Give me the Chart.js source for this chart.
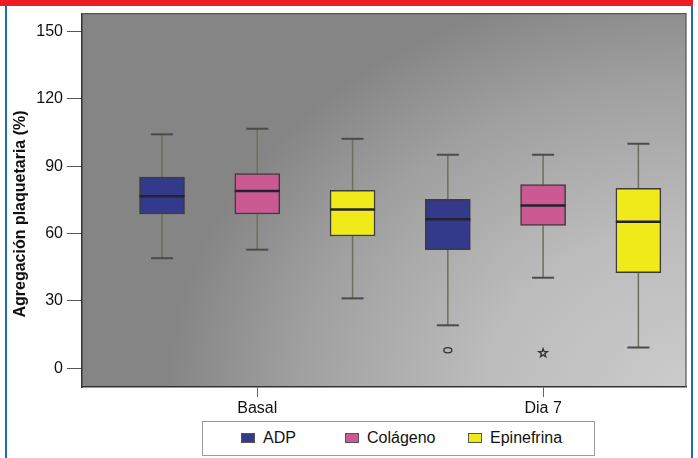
<!DOCTYPE html>
<html lang="es">
<head>
<meta charset="UTF-8">
<title>Agregación plaquetaria</title>
<script src="https://cdn.jsdelivr.net/npm/chart.js@4"></script>
<style>
  html, body { margin: 0; padding: 0; background: #fff; }
  body { width: 698px; height: 458px; position: relative; overflow: hidden;
         font-family: "Liberation Sans", Arial, sans-serif; }
  .franja { position: absolute; left: 0; top: 0; width: 693px; height: 6px; background: #ee1c25; }
  .borde { position: absolute; top: 6px; width: 2px; height: 452px; background: #1e6db2; }
  #grafico { position: absolute; left: 0; top: 0; }
  .leyenda { position: absolute; left: 202px; top: 421px; width: 391px; height: 33px;
             border: 1px solid #9a9a9a; background: #fff; }
  .item { position: absolute; top: 7px; font-size: 16px; color: #111; white-space: nowrap; }
  .item i { display: inline-block; width: 14px; height: 10px; margin-right: 8px;
            border: 1px solid #555; box-sizing: border-box; vertical-align: 0px; }
</style>
</head>
<body>
<div class="franja"></div>
<div class="borde" style="left:5px"></div>
<div class="borde" style="left:691px"></div>
<canvas id="grafico" width="698" height="458"></canvas>
<div class="leyenda" id="leyenda"></div>

<script>
// datos: cada fila es una serie, cada columna una categoría (Basal, Dia 7)
const categorias = ['Basal', 'Dia 7'];
const series = ['ADP', 'Colágeno', 'Epinefrina'];
const minimo  = [[49.0, 19.1], [52.8, 40.3], [31.1, 9.2]];
const q1      = [[68.7, 52.8], [68.7, 63.6], [58.9, 42.6]];
const mediana = [[76.6, 66.3], [79.0, 72.5], [70.7, 65.2]];
const q3      = [[85.1, 75.2], [86.7, 81.8], [79.2, 80.1]];
const maximo  = [[104.2, 95.1], [106.7, 95.1], [102.2, 100.0]];
// valores atípicos: [serie, categoría, valor, símbolo]
const atipicos = [[0, 1, 8.0, 'circulo'], [1, 1, 6.7, 'estrella']];
const yTicks = [0, 30, 60, 90, 120, 150];

const colores = ['#333a8c', '#cb5a93', '#f1ea1a'];

// posición de cada caja en el eje x: tres cajas por categoría
const posX = (serie, cat) => cat * 3 + serie + 1;
const posCategorias = categorias.map((c, j) => posX(1, j));

// leyenda
const leyendaX = [38, 142, 265];
const leyenda = document.getElementById('leyenda');
series.forEach((s, i) => {
  const el = document.createElement('span');
  el.className = 'item';
  el.style.left = leyendaX[i] + 'px';
  el.innerHTML = '<i style="background:' + colores[i] + '"></i>' + s;
  leyenda.appendChild(el);
});

const fondo = {
  id: 'fondo',
  beforeDraw(chart) {
    const { ctx, chartArea: a } = chart;
    const cx = a.right + 10, cy = a.bottom + 10, rx = 530, ry = 420;
    ctx.save();
    ctx.translate(cx, cy);
    ctx.scale(1, ry / rx);
    const g = ctx.createRadialGradient(0, 0, 0, 0, 0, rx);
    g.addColorStop(0, '#cccccc');
    g.addColorStop(0.4, '#bcbcbc');
    g.addColorStop(0.75, '#a0a0a0');
    g.addColorStop(1, '#858585');
    ctx.fillStyle = g;
    ctx.fillRect(a.left - cx, (a.top - cy) * rx / ry, a.right - a.left, (a.bottom - a.top) * rx / ry);
    ctx.restore();
  }
};

function linea(ctx, x1, y1, x2, y2) {
  ctx.beginPath();
  ctx.moveTo(x1, y1);
  ctx.lineTo(x2, y2);
  ctx.stroke();
}

const bigotes = {
  id: 'bigotes',
  beforeDatasetsDraw(chart) {
    const { ctx, scales: { x, y } } = chart;
    ctx.save();
    series.forEach((s, i) => {
      categorias.forEach((c, j) => {
        const px = x.getPixelForValue(posX(i, j));
        ctx.strokeStyle = '#6f6d5d';
        ctx.lineWidth = 1.5;
        linea(ctx, px, y.getPixelForValue(q3[i][j]), px, y.getPixelForValue(maximo[i][j]));
        linea(ctx, px, y.getPixelForValue(q1[i][j]), px, y.getPixelForValue(minimo[i][j]));
        ctx.strokeStyle = '#4a4a4a';
        ctx.lineWidth = 2;
        [maximo[i][j], minimo[i][j]].forEach(v => {
          const py = y.getPixelForValue(v);
          linea(ctx, px - 11, py, px + 11, py);
        });
      });
    });
    ctx.restore();
  },
  afterDatasetsDraw(chart) {
    const { ctx, chartArea: a, scales: { x, y } } = chart;
    ctx.save();
    // medianas
    series.forEach((s, i) => {
      const meta = chart.getDatasetMeta(i);
      categorias.forEach((c, j) => {
        const bar = meta.data[j];
        const py = y.getPixelForValue(mediana[i][j]);
        ctx.strokeStyle = '#23232f';
        ctx.lineWidth = 2.5;
        linea(ctx, bar.x - bar.width / 2, py, bar.x + bar.width / 2, py);
      });
    });
    // atípicos
    ctx.strokeStyle = '#333';
    ctx.lineWidth = 1.3;
    atipicos.forEach(([i, j, v, simbolo]) => {
      const px = x.getPixelForValue(posX(i, j));
      const py = y.getPixelForValue(v);
      ctx.beginPath();
      if (simbolo === 'circulo') {
        ctx.ellipse(px, py, 4, 2.6, 0, 0, Math.PI * 2);
      } else {
        for (let k = 0; k < 10; k++) {
          const r = k % 2 === 0 ? 4.5 : 1.8;
          const ang = -Math.PI / 2 + k * Math.PI / 5;
          const qx = px + r * Math.cos(ang), qy = py + r * Math.sin(ang);
          k === 0 ? ctx.moveTo(qx, qy) : ctx.lineTo(qx, qy);
        }
        ctx.closePath();
      }
      ctx.stroke();
    });
    // marco superior y derecho del área
    ctx.strokeStyle = '#555';
    ctx.lineWidth = 1.2;
    ctx.beginPath();
    ctx.moveTo(a.left, a.top);
    ctx.lineTo(a.right, a.top);
    ctx.lineTo(a.right, a.bottom);
    ctx.stroke();
    ctx.restore();
  },
  afterDraw(chart) {
    const ctx = chart.ctx;
    ctx.save();
    ctx.translate(21, 214);
    ctx.rotate(-Math.PI / 2);
    ctx.font = 'bold 16px "Liberation Sans", Arial, sans-serif';
    ctx.fillStyle = '#111';
    ctx.textAlign = 'center';
    ctx.textBaseline = 'middle';
    ctx.fillText('Agregación plaquetaria (%)', 0, 0);
    ctx.restore();
  }
};

const fuente = { family: '"Liberation Sans", Arial, sans-serif', size: 16 };

new Chart(document.getElementById('grafico'), {
  type: 'bar',
  data: {
    datasets: series.map((s, i) => ({
      label: s,
      data: categorias.map((c, j) => ({ x: posX(i, j), y: [q1[i][j], q3[i][j]] })),
      backgroundColor: colores[i],
      borderColor: '#3c3c3c',
      borderWidth: 1.5,
      borderSkipped: false,
      barThickness: 45,
      grouped: false
    }))
  },
  options: {
    responsive: false,
    animation: false,
    events: [],
    layout: { padding: { top: 12, right: 12, left: 0, bottom: 0 } },
    plugins: { legend: { display: false }, tooltip: { enabled: false } },
    scales: {
      x: {
        type: 'linear',
        min: 0.16,
        max: 6.5,
        offset: false,
        afterBuildTicks: s => { s.ticks = posCategorias.map(v => ({ value: v })); },
        afterFit: s => { s.height = 71; },
        ticks: {
          callback: v => categorias[posCategorias.indexOf(v)],
          font: fuente, color: '#111', padding: 2, autoSkip: false, maxRotation: 0
        },
        grid: { offset: false, drawOnChartArea: false, drawTicks: true, tickLength: 10, color: '#666' },
        border: { color: '#333', width: 1.5 }
      },
      y: {
        min: -8.4,
        max: 158,
        afterBuildTicks: s => { s.ticks = yTicks.map(v => ({ value: v })); },
        afterFit: s => { s.width = 82; },
        ticks: { font: fuente, color: '#111', padding: 4 },
        grid: { drawOnChartArea: false, drawTicks: true, tickLength: 15, color: '#555' },
        border: { color: '#333', width: 1.5 }
      }
    }
  },
  plugins: [fondo, bigotes]
});
</script>
</body>
</html>
